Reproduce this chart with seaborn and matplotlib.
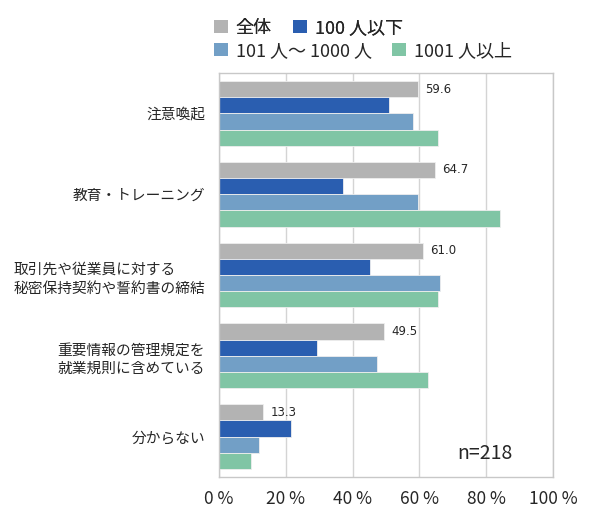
import numpy as np
import pandas as pd
import matplotlib
matplotlib.use("Agg")
import matplotlib.pyplot as plt
from matplotlib.patches import Patch
from matplotlib.ticker import FixedLocator
import seaborn as sns

CATEGORIES = ["注意喚起", "教育・トレーニング", "取引先や従業員に対する\n秘密保持契約や誓約書の締結",
              "重要情報の管理規定を\n就業規則に含めている", "分からない"]
SERIES = ["全体", "100 人以下", "101 人〜 1000 人", "1001 人以上"]
ZENTAI = [59.6, 64.7, 61.0, 49.5, 13.3]
UNDER_100 = [51.0, 37.2, 45.1, 29.3, 21.5]
MID_101_1000 = [58.1, 59.5, 66.2, 47.3, 12.1]
OVER_1001 = [65.6, 84.0, 65.6, 62.5, 9.6]
X_TICKS = [0, 20, 40, 60, 80, 100]
N_LABEL = "n=218"

COLORS = ["#b3b3b3", "#2a5eb0", "#729fc6", "#80c5a5"]


def main():
    sns.set_style("white")
    plt.rcParams["font.family"] = ["Noto Sans CJK JP", "DejaVu Sans"]

    rows = []
    for s, vals in zip(SERIES, [ZENTAI, UNDER_100, MID_101_1000, OVER_1001]):
        for c, v in zip(CATEGORIES, vals):
            rows.append({"category": c, "series": s, "value": v})
    df = pd.DataFrame(rows)

    fig = plt.figure(figsize=(5.9, 5.21), dpi=100)
    ax = fig.add_axes([219 / 590, 1 - 477 / 521, 334 / 590, 404 / 521])

    sns.barplot(data=df, y="category", x="value", hue="series", orient="h",
                order=CATEGORIES, hue_order=SERIES, palette=COLORS, width=0.8,
                saturation=1, edgecolor="#eeeeee", linewidth=0.6, legend=False, ax=ax)

    ax.set_xlim(0, 100)
    ax.set_ylim(len(CATEGORIES) - 0.5, -0.5)
    ax.set_xticks(X_TICKS)
    ax.set_xticklabels([f"{t} %" for t in X_TICKS], fontsize=12.5)
    ax.grid(axis="x", color="#d4d4d4", linewidth=1)
    ax.set_axisbelow(True)
    for sp in ax.spines.values():
        sp.set_color("#c8c8c8")
        sp.set_linewidth(1)
    ax.tick_params(axis="x", length=6, color="#c8c8c8", pad=3)
    ax.tick_params(axis="y", which="major", length=0, pad=10, labelsize=10.6)
    ax.yaxis.set_minor_locator(FixedLocator(np.arange(-0.5, len(CATEGORIES), 1.0)))
    ax.tick_params(axis="y", which="minor", length=8, color="#c8c8c8")
    for lab in ax.get_yticklabels():
        lab.set_multialignment("left")
        lab.set_linespacing(1.45)
    ax.set_xlabel("")
    ax.set_ylabel("")

    ax.bar_label(ax.containers[0], fmt="%.1f", padding=5, fontsize=8.5,
                 family=["DejaVu Sans"])

    ax.text(0.795, 0.057, N_LABEL, transform=ax.transAxes, fontsize=14,
            ha="center", va="center")

    handles = [Patch(facecolor=c, edgecolor="none") for c in COLORS]
    leg_kw = dict(frameon=False, fontsize=13, handlelength=0.75, handleheight=0.75,
                  handletextpad=0.45, borderpad=0, borderaxespad=0, loc="upper left")
    leg1 = fig.legend(handles[:2], SERIES[:2], ncol=2, columnspacing=1.2,
                      bbox_to_anchor=(214 / 590, 1 - 19 / 521), **leg_kw)
    fig.legend(handles[2:], SERIES[2:], ncol=2, columnspacing=1.15,
               bbox_to_anchor=(214 / 590, 1 - 42 / 521), **leg_kw)
    fig.add_artist(leg1)

    fig.savefig("out.png", dpi=100)


if __name__ == "__main__":
    main()
